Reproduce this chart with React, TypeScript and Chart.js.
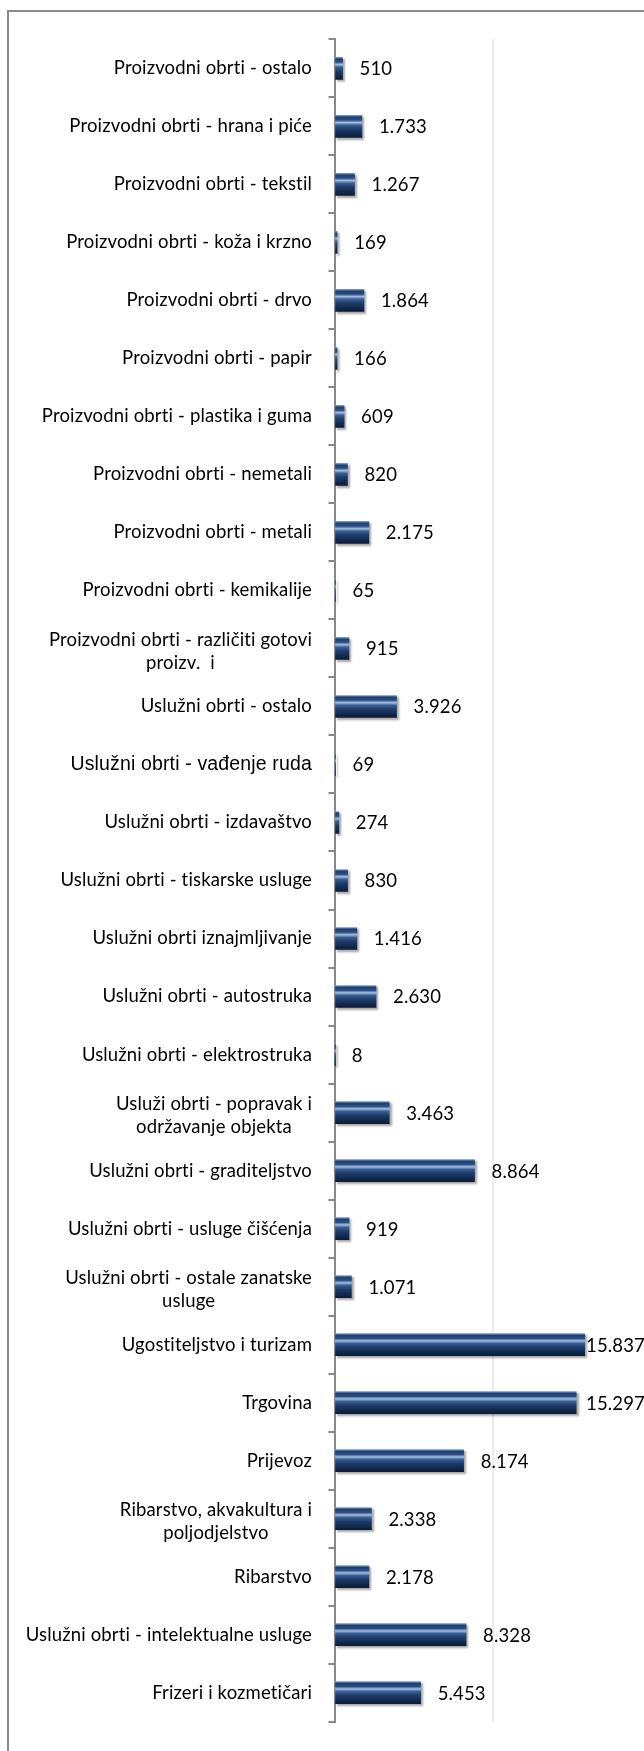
import React, { useEffect, useRef } from "react";
import { Chart, registerables } from "chart.js";

Chart.register(...registerables);

const categories: (string | string[])[] = [
  "Proizvodni obrti - ostalo",
  "Proizvodni obrti - hrana i piće",
  "Proizvodni obrti - tekstil",
  "Proizvodni obrti - koža i krzno",
  "Proizvodni obrti - drvo",
  "Proizvodni obrti - papir",
  "Proizvodni obrti - plastika i guma",
  "Proizvodni obrti - nemetali",
  "Proizvodni obrti - metali",
  "Proizvodni obrti - kemikalije",
  ["Proizvodni obrti - različiti gotovi", "proizv.  i"],
  "Uslužni obrti - ostalo",
  "Uslužni obrti - vađenje ruda",
  "Uslužni obrti - izdavaštvo",
  "Uslužni obrti - tiskarske usluge",
  "Uslužni obrti iznajmljivanje",
  "Uslužni obrti - autostruka",
  "Uslužni obrti - elektrostruka",
  ["Usluži obrti - popravak i", "održavanje objekta"],
  "Uslužni obrti - graditeljstvo",
  "Uslužni obrti - usluge čišćenja",
  ["Uslužni obrti - ostale zanatske", "usluge"],
  "Ugostiteljstvo i turizam",
  "Trgovina",
  "Prijevoz",
  ["Ribarstvo, akvakultura i", "poljodjelstvo"],
  "Ribarstvo",
  "Uslužni obrti - intelektualne usluge",
  "Frizeri i kozmetičari",
];

const values: number[] = [
  510, 1733, 1267, 169, 1864, 166, 609, 820, 2175, 65, 915, 3926, 69, 274, 830,
  1416, 2630, 8, 3463, 8864, 919, 1071, 15837, 15297, 8174, 2338, 2178, 8328,
  5453,
];

const xTicks: number[] = [0, 10000, 20000];
const xMax = 20000;

// Indices of labels rendered in a different (Arial-like) font
const arialLabels: number[] = [12];

const LABEL_FONT = '18.5px Lato, "Open Sans", sans-serif';
const ARIAL_FONT = '19.5px "Liberation Sans", Arial, sans-serif';
const LABEL_RIGHT = 312;
const LINE_H = 23;
const BAR_T = 22;
const VALUE_GAP = 17;
const VALUE_MAX_RIGHT = 645;

const fmt = (n: number) => String(n).replace(/\B(?=(\d{3})+(?!\d))/g, ".");

const textPlugin = {
  id: "customText",
  afterDraw(chart: any) {
    const ctx = chart.ctx as any;
    const ys = chart.scales.y;
    ctx.save();
    ctx.fillStyle = "#000";
    ctx.textBaseline = "middle";
    ctx.textAlign = "center";
    try {
      ctx.textRendering = "optimizeSpeed";
      ctx.letterSpacing = "0.15px";
    } catch (e) {}
    categories.forEach((lab, i) => {
      const lines = Array.isArray(lab) ? lab : [lab];
      ctx.font = arialLabels.includes(i) ? ARIAL_FONT : LABEL_FONT;
      const cy = ys.getPixelForValue(i) + (lines.length > 1 ? 3 : 0);
      const maxW = Math.max(...lines.map((l: string) => ctx.measureText(l).width));
      const cx = LABEL_RIGHT - maxW / 2;
      lines.forEach((l: string, k: number) => {
        ctx.fillText(l, cx, cy + (k - (lines.length - 1) / 2) * LINE_H);
      });
    });
    const meta = chart.getDatasetMeta(0);
    ctx.font = LABEL_FONT;
    ctx.textAlign = "left";
    meta.data.forEach((el: any, i: number) => {
      const txt = fmt(values[i]);
      const w = ctx.measureText(txt).width;
      let x = el.x + VALUE_GAP;
      if (x + w > VALUE_MAX_RIGHT) x = VALUE_MAX_RIGHT - w;
      ctx.fillText(txt, x, el.y + 1);
    });
    ctx.restore();
  },
};

const shadowPlugin = {
  id: "barShadow",
  beforeDatasetDraw(chart: any) {
    const ctx = chart.ctx as CanvasRenderingContext2D;
    ctx.save();
    ctx.shadowColor = "rgba(0,0,0,0.35)";
    ctx.shadowOffsetX = 2;
    ctx.shadowOffsetY = 2;
    ctx.shadowBlur = 2;
  },
  afterDatasetDraw(chart: any) {
    chart.ctx.restore();
  },
};

export default function App() {
  const ref = useRef<HTMLCanvasElement | null>(null);

  useEffect(() => {
    if (!ref.current) return;
    const chart = new Chart(ref.current, {
      type: "bar",
      data: {
        labels: categories.map((c) => (Array.isArray(c) ? c.join(" ") : c)),
        datasets: [
          {
            data: values,
            barThickness: BAR_T,
            borderWidth: 0,
            backgroundColor: (c: any) => {
              const chart = c.chart;
              const ys = chart.scales && chart.scales.y;
              if (!ys || c.dataIndex === undefined) return "#1d3e6e";
              const cy = ys.getPixelForValue(c.dataIndex);
              if (!isFinite(cy)) return "#1d3e6e";
              const h = BAR_T / 2;
              const g = chart.ctx.createLinearGradient(0, cy - h, 0, cy + h);
              g.addColorStop(0, "#7c98c0");
              g.addColorStop(0.08, "#1f3e6c");
              g.addColorStop(0.22, "#2b4f85");
              g.addColorStop(0.33, "#a3c0e4");
              g.addColorStop(0.44, "#3b6094");
              g.addColorStop(0.62, "#1d3d6c");
              g.addColorStop(1, "#0a1c3a");
              return g;
            },
          },
        ],
      },
      options: {
        indexAxis: "y",
        animation: false,
        responsive: false,
        devicePixelRatio: 1,
        layout: { padding: { left: 0, right: 1.5, top: 39.3, bottom: 29.3 } },
        plugins: {
          legend: { display: false },
          tooltip: { enabled: false },
        },
        scales: {
          x: {
            min: 0,
            max: xMax,
            afterBuildTicks: (s: any) => {
              s.ticks = xTicks.map((v) => ({ value: v }));
            },
            ticks: { display: false },
            grid: { color: "#ececec", lineWidth: 2, drawTicks: false },
            border: { display: false },
          },
          y: {
            ticks: { display: false },
            grid: {
              drawOnChartArea: false,
              drawTicks: true,
              tickLength: 6,
              color: "#888888",
              lineWidth: 2,
              offset: true,
            },
            border: { display: true, color: "#888888", width: 2 },
            afterFit: (s: any) => {
              s.width = 334.5;
            },
          },
        },
      },
      plugins: [shadowPlugin, textPlugin],
    } as any);
    chart.update();
    return () => chart.destroy();
  }, []);

  return (
    <div
      style={{
        position: "absolute",
        left: 0,
        top: 0,
        width: 644,
        height: 1751,
        overflow: "hidden",
        background: "#fff",
      }}
    >
      <div
        style={{
          position: "absolute",
          left: 7,
          top: 10,
          width: 800,
          height: 2000,
          border: "2px solid #8a8a8a",
          boxSizing: "border-box",
        }}
      />
      <canvas
        ref={ref}
        width={652}
        height={1751}
        style={{ position: "absolute", left: 0, top: 0, width: 652, height: 1751 }}
      />
    </div>
  );
}
